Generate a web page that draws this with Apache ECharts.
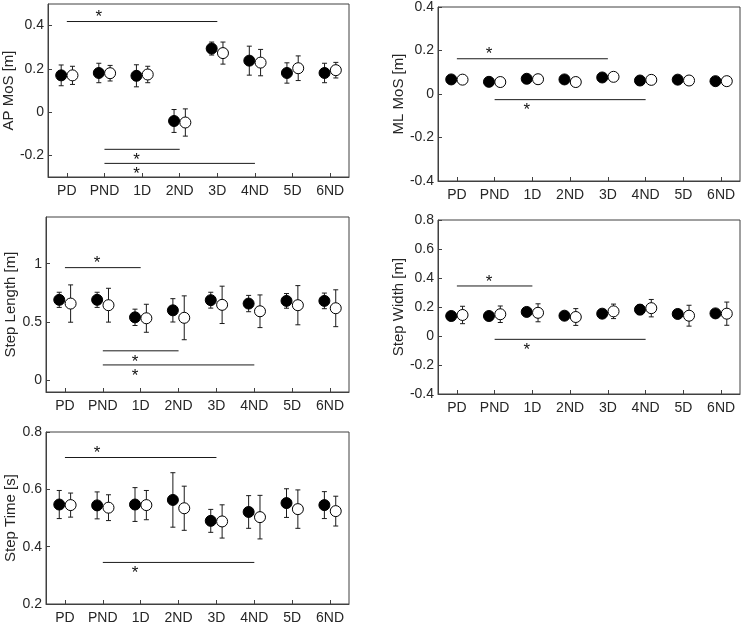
<!DOCTYPE html>
<html>
<head>
<meta charset="utf-8">
<script src="https://cdn.jsdelivr.net/npm/echarts@6/dist/echarts.min.js"></script>
<style>
html,body{margin:0;padding:0;background:#fff;}
#chart{width:742px;height:625px;}
</style>
</head>
<body>
<div id="chart"></div>
<script>
// ---------- data ----------
const categories = ['PD','PND','1D','2ND','3D','4ND','5D','6ND'];

// AP MoS [m]
const apFilledMean = [0.170, 0.181, 0.168, -0.041, 0.294, 0.238, 0.181, 0.181];
const apFilledSD   = [0.048, 0.045, 0.051, 0.053, 0.030, 0.067, 0.047, 0.045];
const apOpenMean   = [0.170, 0.180, 0.174, -0.048, 0.273, 0.229, 0.203, 0.194];
const apOpenSD     = [0.042, 0.036, 0.038, 0.063, 0.051, 0.061, 0.057, 0.036];
const apTicks      = [-0.2, 0, 0.2, 0.4];
const apSig        = [[1, 5, 0.419, 1], [2, 4, -0.172, -1], [2, 6, -0.237, -1]];

// ML MoS [m]
const mlFilledMean = [0.067, 0.056, 0.070, 0.067, 0.076, 0.062, 0.066, 0.059];
const mlFilledSD   = [0.010, 0.010, 0.010, 0.010, 0.010, 0.010, 0.010, 0.010];
const mlOpenMean   = [0.066, 0.055, 0.068, 0.055, 0.079, 0.065, 0.062, 0.059];
const mlOpenSD     = [0.010, 0.010, 0.010, 0.010, 0.010, 0.010, 0.010, 0.010];
const mlTicks      = [-0.4, -0.2, 0, 0.2, 0.4];
const mlSig        = [[1, 5, 0.162, 1], [2, 6, -0.026, -1]];

// Step Length [m]
const slFilledMean = [0.690, 0.690, 0.540, 0.600, 0.687, 0.658, 0.681, 0.681];
const slFilledSD   = [0.065, 0.065, 0.070, 0.100, 0.068, 0.070, 0.063, 0.067];
const slOpenMean   = [0.658, 0.644, 0.532, 0.536, 0.647, 0.592, 0.644, 0.618];
const slOpenSD     = [0.160, 0.145, 0.120, 0.188, 0.160, 0.140, 0.168, 0.158];
const slTicks      = [0, 0.5, 1];
const slSig        = [[1, 3, 0.966, 1], [2, 4, 0.253, -1], [2, 6, 0.132, -1]];

// Step Width [m]
const swFilledMean = [0.138, 0.138, 0.166, 0.140, 0.154, 0.182, 0.152, 0.156];
const swFilledSD   = [0.020, 0.020, 0.022, 0.020, 0.020, 0.035, 0.020, 0.020];
const swOpenMean   = [0.145, 0.150, 0.160, 0.131, 0.170, 0.192, 0.140, 0.154];
const swOpenSD     = [0.060, 0.057, 0.062, 0.058, 0.050, 0.060, 0.072, 0.080];
const swTicks      = [-0.4, -0.2, 0, 0.2, 0.4, 0.6, 0.8];
const swSig        = [[1, 3, 0.345, 1], [2, 6, -0.023, -1]];

// Step Time [s]
const stFilledMean = [0.547, 0.544, 0.547, 0.563, 0.490, 0.521, 0.552, 0.545];
const stFilledSD   = [0.049, 0.047, 0.059, 0.095, 0.040, 0.057, 0.050, 0.047];
const stOpenMean   = [0.545, 0.536, 0.545, 0.534, 0.488, 0.503, 0.531, 0.524];
const stOpenSD     = [0.042, 0.045, 0.051, 0.077, 0.058, 0.076, 0.067, 0.052];
const stTicks      = [0.2, 0.4, 0.6, 0.8];
const stSig        = [[1, 5, 0.711, 1], [2, 6, 0.345, -1]];

// ---------- layout / style ----------
const FONT = '"Liberation Sans", Arial, Helvetica, sans-serif';
const TXT = '#262626';
const AX = '#404040';
const OFF = 0.15;
const xTickVals = categories.map((c, i) => i + 1);

const panels = [
  {name:'AP MoS [m]', left:46, top:4, width:303, height:173, min:-0.3, max:0.5, ticks:apTicks, gap:24,
   fm:apFilledMean, fs:apFilledSD, om:apOpenMean, os:apOpenSD, sig:apSig},
  {name:'Step Length [m]', left:46, top:217, width:303, height:175, min:-0.1, max:1.4, ticks:slTicks, gap:24,
   fm:slFilledMean, fs:slFilledSD, om:slOpenMean, os:slOpenSD, sig:slSig},
  {name:'Step Time [s]', left:46, top:432, width:303, height:174, min:0.2, max:0.8, ticks:stTicks, gap:24,
   fm:stFilledMean, fs:stFilledSD, om:stOpenMean, os:stOpenSD, sig:stSig},
  {name:'ML MoS [m]', left:438, top:6, width:302, height:175, min:-0.4, max:0.4, ticks:mlTicks, gap:32,
   fm:mlFilledMean, fs:mlFilledSD, om:mlOpenMean, os:mlOpenSD, sig:mlSig},
  {name:'Step Width [m]', left:438, top:220, width:302, height:174, min:-0.4, max:0.8, ticks:swTicks, gap:32,
   fm:swFilledMean, fs:swFilledSD, om:swOpenMean, os:swOpenSD, sig:swSig}
];

const grid = [], xAxis = [], yAxis = [], series = [];

function errRender(params, api) {
  const x = api.value(0), m = api.value(1), s = api.value(2);
  const top = api.coord([x, m + s]);
  const bot = api.coord([x, m - s]);
  const cw = 2.5;
  const st = {stroke: '#1a1a1a', lineWidth: 1};
  return {type:'group', children:[
    {type:'line', shape:{x1:top[0], y1:top[1], x2:bot[0], y2:bot[1]}, style:st},
    {type:'line', shape:{x1:top[0]-cw, y1:top[1], x2:top[0]+cw, y2:top[1]}, style:st},
    {type:'line', shape:{x1:bot[0]-cw, y1:bot[1], x2:bot[0]+cw, y2:bot[1]}, style:st}
  ]};
}

function sigRender(params, api) {
  const a = api.value(0), b = api.value(1), y = api.value(2), side = api.value(3);
  const p1 = api.coord([a, y]);
  const p2 = api.coord([b, y]);
  const ps = api.coord([a + 0.85, y]);
  return {type:'group', children:[
    {type:'line', shape:{x1:p1[0], y1:p1[1], x2:p2[0], y2:p2[1]}, style:{stroke:'#1a1a1a', lineWidth:1}},
    {type:'text', style:{text:'*', x:ps[0], y: side > 0 ? p1[1] - 4 : p1[1] + 11,
      font:'17px ' + FONT, fill:'#111', align:'center', verticalAlign:'middle'}}
  ]};
}

panels.forEach((p, k) => {
  grid.push({left:p.left, top:p.top, width:p.width, height:p.height, show:true,
    borderColor:AX, borderWidth:1, backgroundColor:'transparent', containLabel:false});
  xAxis.push({type:'value', gridIndex:k, min:0.5, max:8.5,
    axisLine:{show:true, onZero:false, lineStyle:{color:AX, width:1}},
    axisTick:{show:true, inside:true, length:4, customValues:xTickVals, lineStyle:{color:AX}},
    axisLabel:{show:true, customValues:xTickVals, margin:7, color:TXT, fontSize:14, fontFamily:FONT,
      formatter: v => categories[Math.round(v) - 1] || ''},
    splitLine:{show:false}});
  yAxis.push({type:'value', gridIndex:k, min:p.min, max:p.max,
    name:p.name, nameLocation:'middle', nameGap:p.gap, nameRotate:90,
    nameTextStyle:{color:TXT, fontSize:15, fontFamily:FONT},
    axisLine:{show:true, onZero:false, lineStyle:{color:AX, width:1}},
    axisTick:{show:true, inside:true, length:4, customValues:p.ticks, lineStyle:{color:AX}},
    axisLabel:{show:true, customValues:p.ticks, margin:4, color:TXT, fontSize:14, fontFamily:FONT,
      formatter: v => String(Math.round(v * 10) / 10)},
    splitLine:{show:false}});

  const errData = [];
  p.fm.forEach((m, i) => errData.push([i + 1 - OFF, m, p.fs[i]]));
  p.om.forEach((m, i) => errData.push([i + 1 + OFF, m, p.os[i]]));
  series.push({type:'custom', xAxisIndex:k, yAxisIndex:k, renderItem:errRender, data:errData, z:2, silent:true});
  series.push({type:'custom', xAxisIndex:k, yAxisIndex:k, renderItem:sigRender, data:p.sig, z:2, silent:true});
  series.push({type:'scatter', xAxisIndex:k, yAxisIndex:k, symbol:'circle', symbolSize:11, z:3,
    itemStyle:{color:'#000', borderColor:'#000', borderWidth:1, opacity:1},
    data:p.fm.map((m, i) => [i + 1 - OFF, m])});
  series.push({type:'scatter', xAxisIndex:k, yAxisIndex:k, symbol:'circle', symbolSize:11, z:3,
    itemStyle:{color:'#fff', borderColor:'#000', borderWidth:1, opacity:1},
    data:p.om.map((m, i) => [i + 1 + OFF, m])});
});

const chart = echarts.init(document.getElementById('chart'), null, {renderer:'canvas'});
chart.setOption({animation:false, backgroundColor:'#fff', grid, xAxis, yAxis, series});
</script>
</body>
</html>
